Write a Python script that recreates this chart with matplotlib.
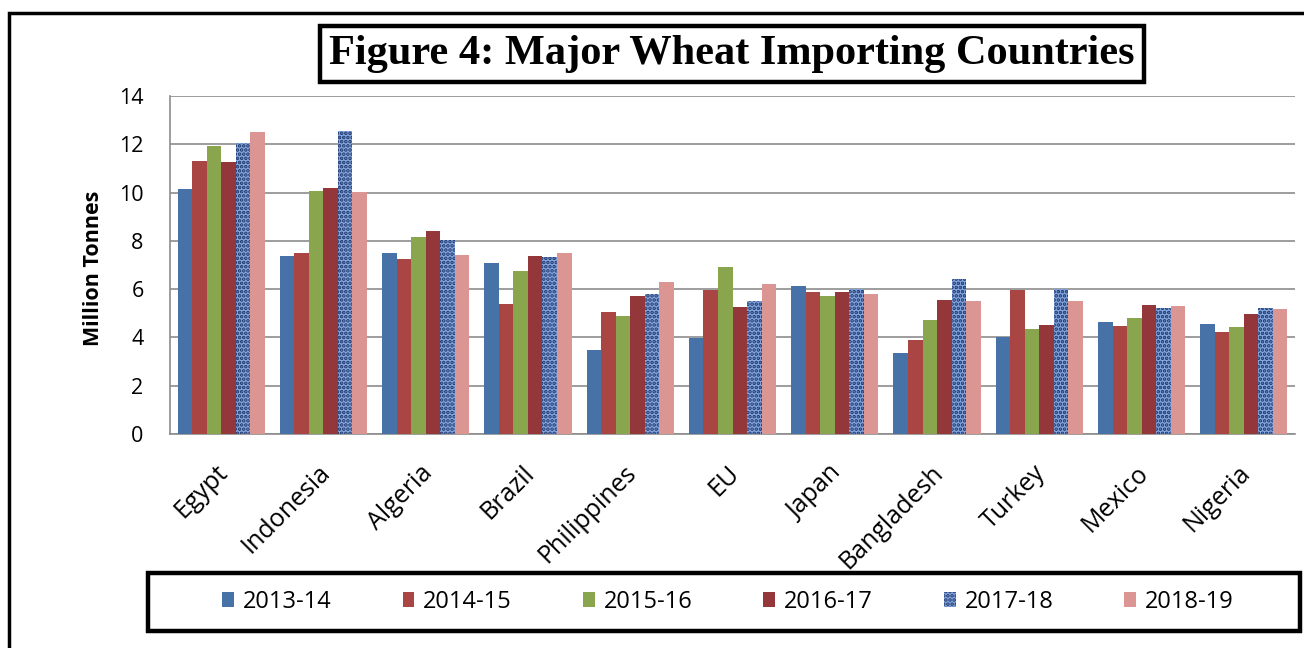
import matplotlib
matplotlib.use("Agg")
import matplotlib.pyplot as plt
import matplotlib.transforms as mtransforms
import numpy as np
from matplotlib.patches import Rectangle

countries = ["Egypt", "Indonesia", "Algeria", "Brazil", "Philippines", "EU",
             "Japan", "Bangladesh", "Turkey", "Mexico", "Nigeria"]
seasons = ["2013-14", "2014-15", "2015-16", "2016-17", "2017-18", "2018-19"]

y2013 = [10.15, 7.39, 7.48, 7.07, 3.47, 3.99, 6.12, 3.34, 4.02, 4.64, 4.56]
y2014 = [11.30, 7.48, 7.25, 5.37, 5.05, 5.98, 5.88, 3.91, 5.95, 4.46, 4.24]
y2015 = [11.94, 10.07, 8.16, 6.74, 4.90, 6.90, 5.70, 4.71, 4.36, 4.79, 4.42]
y2016 = [11.25, 10.18, 8.42, 7.36, 5.70, 5.27, 5.90, 5.54, 4.52, 5.36, 4.96]
y2017 = [12.05, 12.55, 8.02, 7.33, 5.80, 5.51, 6.00, 6.41, 6.00, 5.22, 5.22]
y2018 = [12.52, 10.01, 7.40, 7.50, 6.30, 6.20, 5.80, 5.50, 5.50, 5.30, 5.18]
series = [y2013, y2014, y2015, y2016, y2017, y2018]

colors = ["#4672a8", "#a94542", "#89a54e", "#93373a", "#86a8e0", "#db9694"]

plt.rcParams['font.family'] = ['Open Sans', 'DejaVu Sans']
plt.rcParams['hatch.linewidth'] = 1.8

fig = plt.figure(figsize=(13.04, 6.48), dpi=100)
ax = fig.add_axes([170/1304, 1-434/648, 1125/1304, 338/648])

x = np.arange(len(countries))
w = 0.142
handles = []
for i, vals in enumerate(series):
    if i == 4:
        b = ax.bar(x + (i-2.5)*w, vals, w, color=colors[i], edgecolor="#1c3468",
                   linewidth=0, hatch="....", zorder=3, label=seasons[i])
    else:
        b = ax.bar(x + (i-2.5)*w, vals, w, color=colors[i], linewidth=0,
                   zorder=3, label=seasons[i])
    handles.append(b)

ax.set_xlim(-0.5, len(countries)-0.5)
ax.set_ylim(0, 14)
ax.set_yticks(range(0, 15, 2))
ax.grid(axis="y", color="#8c8c8c", linewidth=1.2, zorder=0)
for s in ["top", "right"]:
    ax.spines[s].set_visible(False)
for s in ["left", "bottom"]:
    ax.spines[s].set_color("#8c8c8c")
    ax.spines[s].set_linewidth(1.2)
ax.tick_params(axis="y", length=0, pad=19, labelsize=15.5)
ax.tick_params(axis="x", length=0, pad=19)
ax.set_xticks(x)
ax.set_xticklabels(countries, rotation=45, ha="right", va="top",
                   rotation_mode="anchor", fontsize=18)
shift = mtransforms.ScaledTranslation(-6/100, 0, fig.dpi_scale_trans)
for lab in ax.get_xticklabels():
    lab.set_transform(lab.get_transform() + shift)
ax.set_ylabel("Million Tonnes", fontsize=15.5, fontweight="bold")
ax.yaxis.set_label_coords(-0.059, 0.49)

# title with box
fig.text(732/1304, 1-54/648, "Figure 4: Major Wheat Importing Countries",
         ha="center", va="center", fontsize=30.5, fontweight="bold",
         family="Liberation Serif",
         bbox=dict(boxstyle="square,pad=0.22", fc="white", ec="black", lw=3.2))

# legend
fig.legend(handles=handles, labels=seasons, loc="center",
           bbox_to_anchor=(728/1304, 1-602/648), ncol=6, frameon=False,
           fontsize=17, handlelength=0.5, handleheight=0.6,
           handletextpad=0.38, columnspacing=3.0)
fig.patches.append(Rectangle((148/1304, 1-631/648), 1152/1304, 58/648,
                             transform=fig.transFigure, fill=False,
                             ec="black", lw=3.2))

# outer frame
fig.patches.append(Rectangle((9/1304, -0.1), 1.2, 1.1-13/648,
                             transform=fig.transFigure, fill=False,
                             ec="black", lw=2.5))

fig.savefig("out.png", dpi=100)
